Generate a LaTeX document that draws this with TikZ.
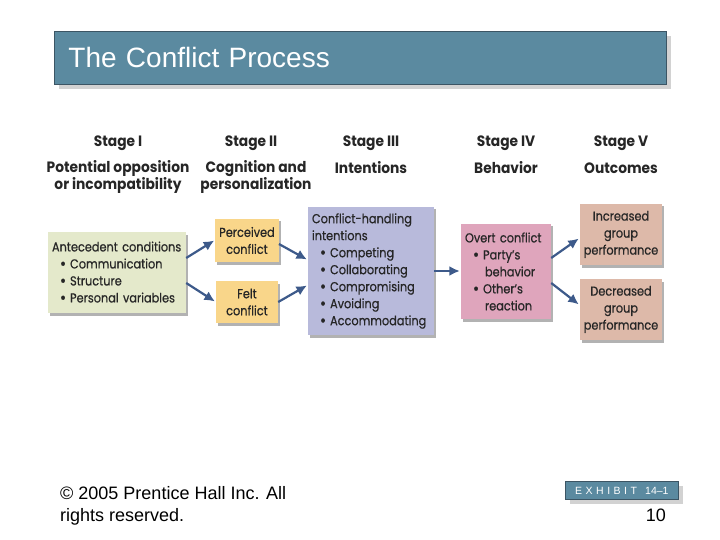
\documentclass[tikz,border=0pt]{standalone}
\usepackage{fontspec}
\setmainfont{Liberation Sans}
\newfontfamily\fut[FakeStretch=0.87,FakeBold=0.6]{Poppins}
\newfontfamily\futh[FakeStretch=0.92]{Poppins}
\usetikzlibrary{arrows.meta,shadows}
\definecolor{titlefill}{RGB}{91,138,160}
\definecolor{titledraw}{RGB}{60,85,100}
\definecolor{shadowgray}{RGB}{210,210,210}
\definecolor{antfill}{RGB}{228,233,203}
\definecolor{yelfill}{RGB}{249,214,138}
\definecolor{lavfill}{RGB}{184,186,219}
\definecolor{pinkfill}{RGB}{223,165,188}
\definecolor{tanfill}{RGB}{221,185,169}
\definecolor{arrowblue}{RGB}{61,90,138}
\newcommand{\bul}{\hspace*{8pt}\raisebox{-1pt}{\fontsize{17}{17}\selectfont\textbullet}\hspace{4pt}}
\begin{document}
\begin{tikzpicture}[x=1pt,y=-1pt,
  bar/.style={draw=titledraw,line width=0.8pt,fill=titlefill,
    drop shadow={shadow xshift=5pt,shadow yshift=-5pt,fill=shadowgray,opacity=1}},
  hdr/.style={font=\futh\bfseries\fontsize{15}{17}\selectfont,align=center,inner sep=0pt,text=black!85},
  cbox/.style={inner sep=4pt,font=\fut\fontsize{13}{17}\selectfont,text=black!85,
    drop shadow={shadow xshift=2pt,shadow yshift=-2.5pt,fill=black,opacity=0.3}},
  flow/.style={draw=arrowblue,line width=2.2pt,-{Latex[length=10.5pt,width=10pt]},shorten >=1pt}
]
\useasboundingbox[fill=white] (0,0) rectangle (720,540);
% title
\node[bar,minimum width=612pt,minimum height=53pt,anchor=north west,text width=590pt,align=left,
  font=\fontsize{28}{30}\selectfont,text=white,inner sep=0pt] (title) at (54,31) {\hspace*{3pt}The Conflict Process};
% headers
\node[hdr] (s1) at (118,143) {Stage I};
\node[hdr] (s2) at (251,143) {Stage II};
\node[hdr] (s3) at (371,143) {Stage III};
\node[hdr] (s4) at (506,143) {Stage IV};
\node[hdr] (s5) at (621,143) {Stage V};
\node[hdr] (h1) at (118,177) {Potential opposition\\or incompatibility};
\node[hdr] (h2) at (256,177) {Cognition and\\personalization};
\node[hdr] (h3) at (371,168) {Intentions};
\node[hdr] (h4) at (506,168) {Behavior};
\node[hdr] (h5) at (621,168) {Outcomes};
% boxes
\node[cbox,fill=antfill,minimum width=138pt,minimum height=81pt,text width=130pt,align=left] (ant) at (117,272.5)
  {Antecedent conditions\\
   \bul Communication\\
   \bul Structure\\
   \bul Personal variables};
\node[cbox,fill=yelfill,minimum width=62pt,minimum height=43pt,align=center] (per) at (247,240.5) {Perceived\\conflict};
\node[cbox,fill=yelfill,minimum width=62pt,minimum height=42pt,align=center] (felt) at (247,302) {Felt\\conflict};
\node[cbox,fill=lavfill,minimum width=126pt,minimum height=128pt,text width=118pt,align=left] (ch) at (371,271)
  {Conflict-handling\\intentions\\
   \bul Competing\\
   \bul Collaborating\\
   \bul Compromising\\
   \bul Avoiding\\
   \bul Accommodating};
\node[cbox,fill=pinkfill,minimum width=90pt,minimum height=95pt,text width=82pt,align=left] (ov) at (506,271.5)
  {Overt conflict\\
   \bul Party’s\\
   \hspace*{20pt}behavior\\
   \bul Other’s\\
   \hspace*{20pt}reaction};
\node[cbox,fill=tanfill,minimum width=82pt,minimum height=61pt,align=center] (inc) at (621,234.5) {Increased\\group\\performance};
\node[cbox,fill=tanfill,minimum width=82pt,minimum height=61pt,align=center] (dec) at (621,309.5) {Decreased\\group\\performance};
% arrows
\draw[flow] (ant.east |- 0,258) -- (per.west |- 0,240);
\draw[flow] (ant.east |- 0,283) -- (felt.west |- 0,302);
\draw[flow] (per.east |- 0,244) -- (ch.west |- 0,260);
\draw[flow] (felt.east |- 0,302) -- (ch.west |- 0,285);
\draw[flow] (ch.east |- 0,271) -- (ov.west |- 0,271);
\draw[flow] (ov.east |- 0,258) -- (inc.west |- 0,238);
\draw[flow] (ov.east |- 0,283) -- (dec.west |- 0,305);
% footer
\node[anchor=base west,align=left,font=\fontsize{18}{22}\selectfont,inner sep=0pt] (copy) at (60,521)
  {© 2005 Prentice Hall Inc. All\\rights reserved.};
\node[bar,minimum width=113pt,minimum height=18pt,anchor=north west,inner sep=0pt,
  font=\fontsize{10.5}{11}\selectfont,text=white] (ex) at (565,481) {E\,\,X\,\,H\,\,I\,\,B\,\,I\,\,T\,\,\, 14–1};
\node[anchor=base east,font=\fontsize{18}{20}\selectfont,inner sep=0pt] (pg) at (666,521) {10};
\end{tikzpicture}
\end{document}
